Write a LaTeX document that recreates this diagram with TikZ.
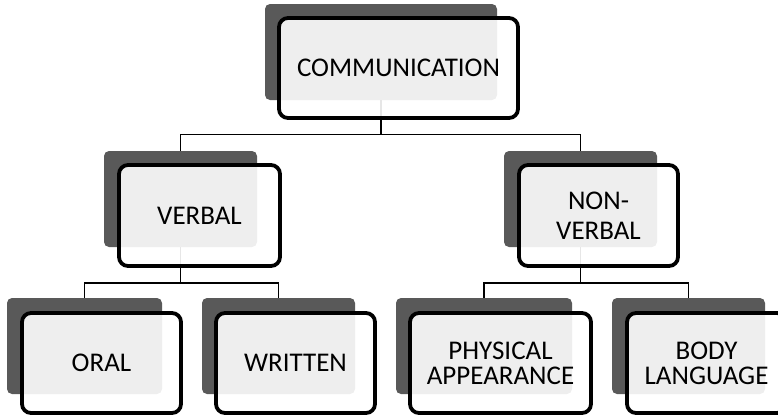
\documentclass[tikz,border=0pt]{standalone}
\usepackage{fontspec}
\setmainfont{Carlito}
\definecolor{shade}{HTML}{595959}
\begin{document}
\begin{tikzpicture}[x=1pt,y=-1pt,
  shadowbox/.style={fill=shade, rounded corners=5pt, inner sep=0pt, outer sep=0pt},
  frontbox/.style={draw=black, line width=3.8pt, fill=white, fill opacity=0.9, text opacity=1,
    rounded corners=9pt, inner sep=0pt, outer sep=0pt, align=center,
    font=\fontsize{27}{29.5}\selectfont},
  conn/.style={draw=black, line width=1.8pt}]
\useasboundingbox (0,0) rectangle (778,416);
% shadow boxes
\node[shadowbox, minimum width=232pt, minimum height=96pt] (cs) at (381,52) {};
\node[shadowbox, minimum width=153pt, minimum height=96pt] (vs) at (180.5,199) {};
\node[shadowbox, minimum width=153pt, minimum height=96pt] (ns) at (580.5,199) {};
\node[shadowbox, minimum width=155pt, minimum height=96pt] (os) at (84.5,346) {};
\node[shadowbox, minimum width=153pt, minimum height=96pt] (ws) at (278.5,346) {};
\node[shadowbox, minimum width=176pt, minimum height=96pt] (ps) at (484,346) {};
\node[shadowbox, minimum width=153pt, minimum height=96pt] (bs) at (688.5,346) {};
% connectors
\coordinate (j1) at (381,134.5);
\coordinate (j2) at (180.5,283);
\coordinate (j3) at (580.5,283);
\draw[conn] (cs.south) -- (j1) -| (vs.north);
\draw[conn] (j1) -| (ns.north);
\draw[conn] (vs.south) -- (j2) -| (os.north);
\draw[conn] (j2) -| (ws.north);
\draw[conn] (ns.south) -- (j3) -| (ps.north);
\draw[conn] (j3) -| (bs.north);
% front boxes
\node[frontbox, minimum width=239pt, minimum height=100pt] (comm) at (398.5,68) {COMMUNICATION};
\node[frontbox, minimum width=161pt, minimum height=101pt] (verbal) at (199.5,215.5) {VERBAL};
\node[frontbox, minimum width=159pt, minimum height=101pt] (nonverbal) at (598.5,215.5) {NON-\\VERBAL};
\node[frontbox, minimum width=159pt, minimum height=100pt] (oral) at (101.5,363) {ORAL};
\node[frontbox, minimum width=159pt, minimum height=100pt] (written) at (295.5,363) {WRITTEN};
\node[frontbox, minimum width=181pt, minimum height=100pt] (physical) at (500.5,363) {PHYSICAL\\[-4.5pt]APPEARANCE};
\node[frontbox, minimum width=159pt, minimum height=100pt] (body) at (706.5,363) {BODY\\[-4.5pt]LANGUAGE};
\end{tikzpicture}
\end{document}
